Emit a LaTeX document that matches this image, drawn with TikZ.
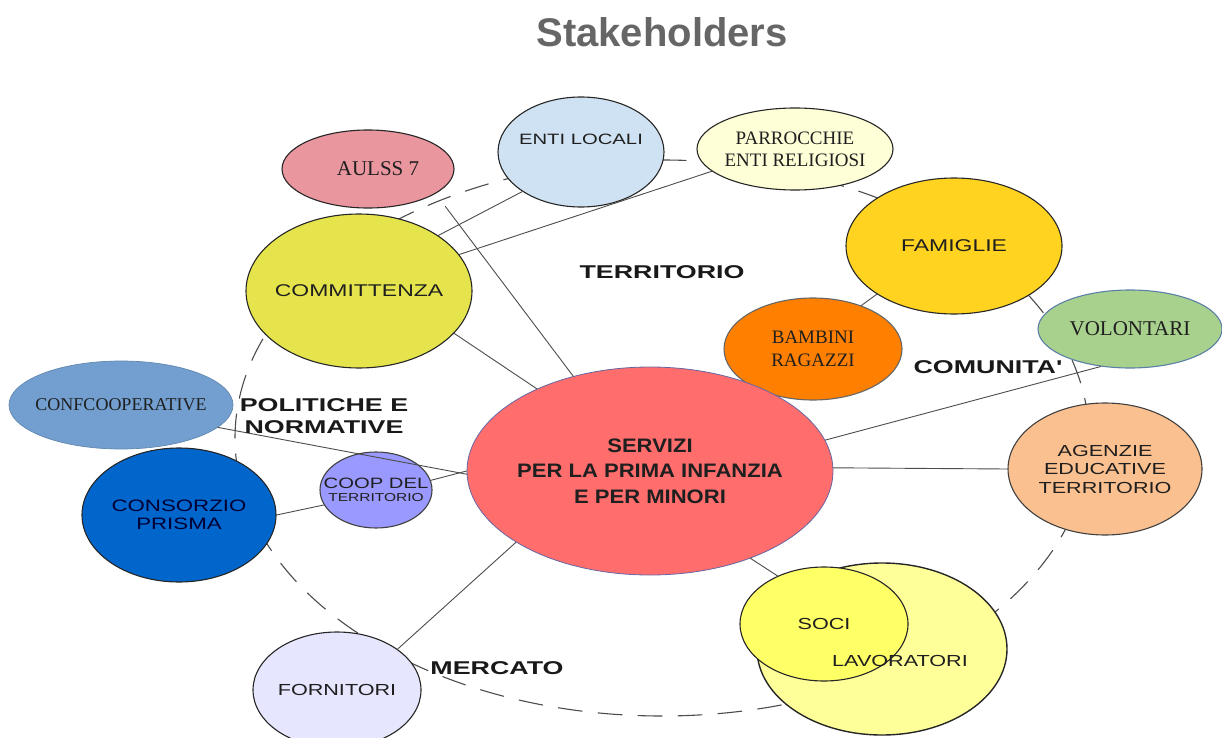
\documentclass[tikz,border=0pt]{standalone}
\usepackage{fontspec}
\setmainfont{Liberation Serif}
\newfontfamily\widesans[FakeStretch=1.35]{Liberation Sans}
\newfontfamily\widebold[FakeStretch=1.45]{Liberation Sans Bold}
\newfontfamily\centrebold[FakeStretch=1.13]{Liberation Sans Bold}
\newfontfamily\titlefont{Liberation Sans Bold}
\usetikzlibrary{shapes.geometric}
\newcommand\fsz[2]{\fontsize{#1}{#2}\selectfont}
\definecolor{aulsscol}{HTML}{E9969F}
\definecolor{enticol}{HTML}{CFE2F3}
\definecolor{parrcol}{HTML}{FFFFD7}
\definecolor{commcol}{HTML}{E6E44C}
\definecolor{famcol}{HTML}{FFD320}
\definecolor{bambcol}{HTML}{FF8000}
\definecolor{volcol}{HTML}{A9D18E}
\definecolor{confcol}{HTML}{729FCF}
\definecolor{conscol}{HTML}{0066CC}
\definecolor{coopcol}{HTML}{9999FF}
\definecolor{servcol}{HTML}{FF6D6D}
\definecolor{agencol}{HTML}{FAC090}
\definecolor{socicol}{HTML}{FFFF66}
\definecolor{lavcol}{HTML}{FFFF99}
\definecolor{forncol}{HTML}{E6E6FF}
\begin{document}
\begin{tikzpicture}[x=1pt, y=-1pt, line join=round, line cap=round,
  blob/.style={ellipse, draw=black!85, line width=1.1pt, inner xsep=-120pt, inner ysep=0pt, align=center, text=black!88},
  link/.style={draw=black!70, line width=0.9pt},
  zone/.style={font=\widebold\fsz{18.5}{22}, align=center, text=black!90}]
\useasboundingbox (0,0) rectangle (1222,738);
\node[font=\titlefont\fsz{40}{44}, text=black!60] (title) at (662,32) {Stakeholders};
% ring of the stakeholders
\draw[black!70, line width=1.1pt, dash pattern=on 24pt off 16pt] (662,438) ellipse [x radius=427, y radius=278];
% territorio
\node[blob, fill=aulsscol, minimum width=172, minimum height=78, font=\fsz{21}{24}] (aulss) at (368,169) {\hspace{20pt}AULSS 7};
\node[blob, fill=enticol, minimum width=166, minimum height=110, font=\widesans\fsz{15}{18}] (entilocali) at (581,152) {ENTI LOCALI\\[8pt]};
\node[blob, fill=parrcol, minimum width=196, minimum height=82, font=\fsz{19}{22}] (parrocchie) at (795,149) {PARROCCHIE\\ENTI RELIGIOSI};
\node[blob, fill=commcol, minimum width=226, minimum height=154, font=\widesans\fsz{17}{20}] (committenza) at (359,291) {COMMITTENZA};
% comunita'
\node[blob, fill=famcol, minimum width=216, minimum height=136, font=\widesans\fsz{17}{20}] (famiglie) at (954,246) {FAMIGLIE};
\node[blob, fill=bambcol, draw=black!60, minimum width=178, minimum height=102, font=\fsz{19}{23}] (bambini) at (813,349) {BAMBINI\\RAGAZZI};
\node[blob, fill=volcol, draw=confcol!80!black, minimum width=184, minimum height=78, font=\fsz{21}{24}] (volontari) at (1130,329) {VOLONTARI};
\node[blob, fill=agencol, draw=black!75, minimum width=194, minimum height=132, font=\widesans\fsz{16}{18.5}] (agenzie) at (1105,469) {AGENZIE\\EDUCATIVE\\TERRITORIO};
% politiche e normative
\node[blob, fill=confcol, draw=confcol!85!black, line width=0.7pt, minimum width=224, minimum height=88, font=\fsz{18}{21}] (confcoop) at (121,405) {CONFCOOPERATIVE};
\node[blob, fill=conscol, minimum width=194, minimum height=134, font=\widesans\fsz{16.5}{17.5}, text=black!80!blue] (consorzio) at (179,515) {CONSORZIO\\PRISMA};
\node[blob, fill=coopcol, draw=black!75, minimum width=112, minimum height=76, font=\widesans\fsz{15}{13}] (coopdel) at (376,490) {COOP DEL\\{\fsz{11.5}{13}TERRITORIO}};
% mercato
\node[blob, fill=forncol, minimum width=168, minimum height=116, font=\widesans\fsz{16}{19}] (fornitori) at (337,690) {FORNITORI};
\node[blob, fill=lavcol, line width=1.4pt, minimum width=250, minimum height=172] (lavoratori) at (882,649) {};
\node[blob, fill=socicol, minimum width=168, minimum height=114, font=\widesans\fsz{16}{19}] (soci) at (824,624) {SOCI};
\node[font=\widesans\fsz{16}{19}, text=black!88] (lavlabel) at (900,661) {LAVORATORI};
% centre
\node[blob, fill=servcol, draw=blue!40!black!60, line width=0.8pt, minimum width=366, minimum height=208, font=\centrebold\fsz{19.5}{25.5}] (servizi) at (650,471) {SERVIZI\\PER LA PRIMA INFANZIA\\E PER MINORI};
% links
\draw[link, shorten <=16pt] (aulss.-20) -- (servizi.129);
\foreach \a/\b in {committenza.35/entilocali.214, committenza.20/parrocchie.195,
  committenza.-24/servizi.144, confcoop.-13/servizi.181,
  coopdel.10/servizi.180, consorzio.0/coopdel.196, fornitori.34/servizi.208,
  servizi.-41/soci.134, servizi.1/agenzie.180, servizi.10/volontari.232,
  famiglie.212/bambini.42}
  \draw[link] (\a) -- (\b);
% the four areas
\node[zone] (territorio) at (662,272) {TERRITORIO};
\node[zone] (comunita) at (988,367) {COMUNITA'};
\node[zone] (politiche) at (324,416) {POLITICHE E\\NORMATIVE};
\node[zone] (mercato) at (497,668) {MERCATO};
\end{tikzpicture}
\end{document}
